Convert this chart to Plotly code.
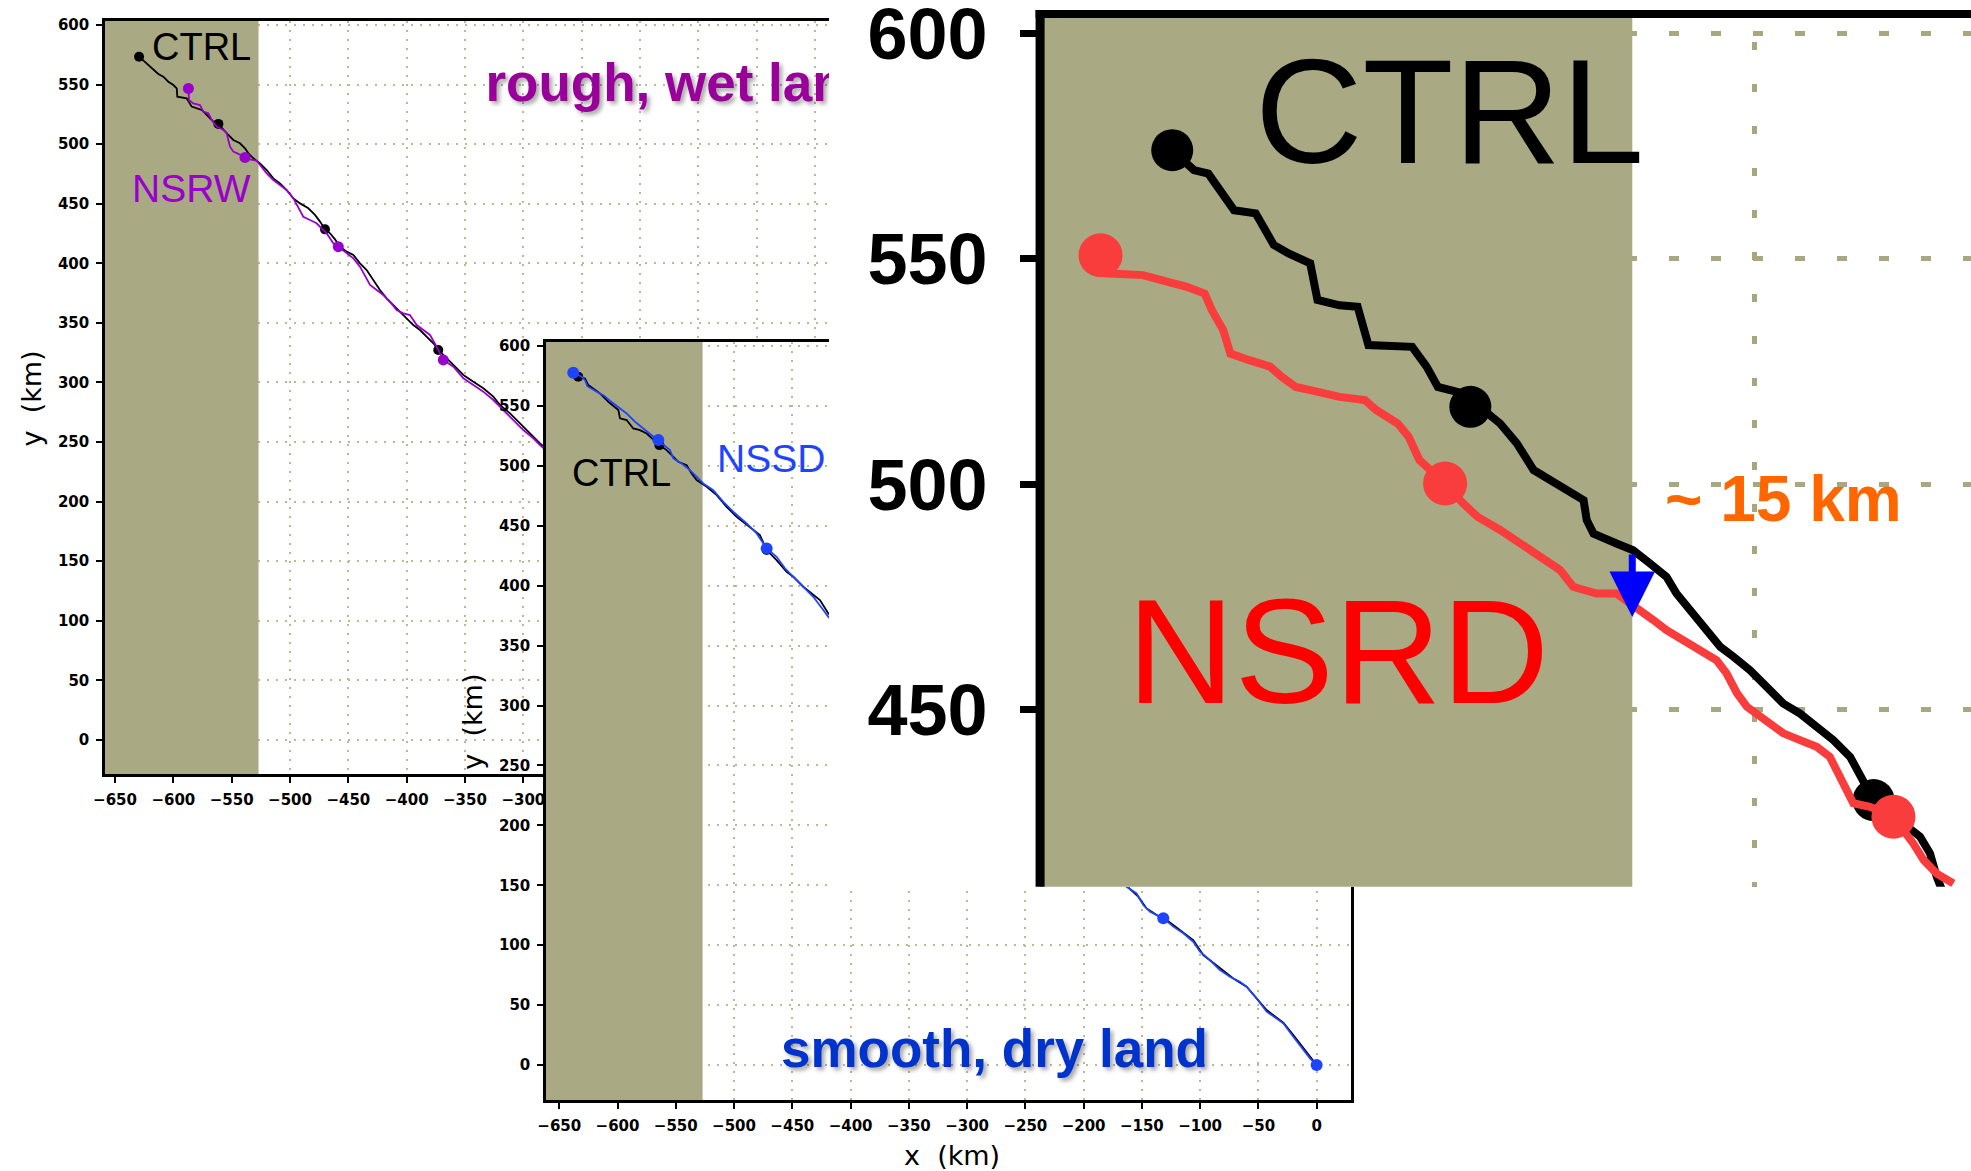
import plotly.graph_objects as go

W, H = 1971, 1171

# ---------------- storm tracks (km) ----------------
# Panel A: CTRL vs NSRW (rough, wet land)
ctrl_a_x = [-629.4, -622.9, -617.2, -612.9, -608.6, -604.3, -600.0, -597.1, -596.6, -592.9,
            -588.6, -584.3, -580.0, -575.7, -571.4, -565.7, -561.4, -557.1, -552.9, -548.6,
            -542.9, -538.6, -535.7, -531.4, -525.7, -520.0, -514.3, -508.6, -502.9, -497.1,
            -491.4, -484.3, -478.6, -474.3, -470.0, -465.7, -461.4, -457.1, -451.4, -445.7,
            -440.0, -434.3, -428.6, -422.9, -417.2, -411.4, -405.7, -400.0, -394.3, -388.6,
            -382.9, -377.1, -372.9, -365.7, -360.0, -351.4, -342.8, -334.3, -325.7, -320.0,
            -311.4, -302.9, -294.3, -285.7, -145.7, -120.0, -102.8, -91.4, -79.9, -62.8,
            -45.7, -38.6]
ctrl_a_y = [573.4, 567.8, 562.2, 558.9, 556.6, 552.4, 549.6, 546.8, 539.8, 539.3,
            538.4, 531.5, 530.1, 528.7, 524.5, 518.9, 517.0, 511.9, 507.7, 503.5,
            500.7, 496.5, 492.3, 488.1, 483.9, 478.3, 471.3, 467.1, 461.5, 454.5,
            450.3, 446.2, 440.6, 435.0, 428.5, 425.2, 420.1, 414.0, 409.8, 407.0,
            400.0, 394.4, 386.0, 377.6, 370.6, 365.0, 359.4, 353.8, 348.2, 344.0,
            338.4, 332.9, 327.3, 320.3, 314.7, 306.3, 300.7, 295.1, 288.1, 281.1,
            274.1, 265.7, 257.3, 248.9, 131.5, 113.3, 100.7, 90.9, 82.5, 69.9,
            48.9, 42.0]
ctrl_a_dot_x = [-629.4, -561.4, -470.0, -372.9]
ctrl_a_dot_y = [573.4, 517.0, 428.5, 327.3]

nsrw_x = [-587.1, -586.6, -582.9, -577.2, -574.3, -570.0, -567.1, -562.9, -557.1, -554.3,
          -552.9, -551.4, -548.6, -542.9, -538.6, -534.3, -528.6, -524.3, -520.0, -514.3,
          -508.6, -502.9, -497.1, -492.9, -488.6, -482.9, -477.2, -468.6, -462.9, -458.6,
          -451.4, -445.7, -440.0, -435.7, -431.4, -425.7, -420.0, -414.3, -408.6, -402.9,
          -397.2, -391.4, -385.7, -380.0, -374.3, -368.6, -360.0, -351.4, -342.8, -334.3,
          -325.7, -317.2, -308.6, -300.0, -291.4, -285.7, -148.5, -132.3, -120.0, -108.5,
          -97.1, -85.7, -74.2, -62.8, -54.2, -45.7, -38.6]
nsrw_y = [546.8, 537.0, 534.2, 532.8, 527.3, 525.9, 520.3, 514.7, 511.9, 509.1,
          503.5, 497.9, 493.7, 490.9, 488.9, 487.3, 486.1, 481.1, 475.5, 469.9,
          465.7, 461.5, 454.5, 447.5, 439.1, 436.4, 433.6, 425.2, 416.8, 414.0,
          408.4, 404.2, 397.2, 388.8, 381.8, 377.6, 373.4, 367.8, 360.8, 358.0,
          356.6, 348.2, 344.0, 339.9, 330.1, 318.9, 313.3, 303.5, 297.9, 292.3,
          285.3, 276.9, 268.5, 260.1, 253.1, 247.5, 131.5, 121.1, 111.9, 104.9,
          92.3, 83.9, 75.5, 68.6, 58.7, 47.6, 40.5]
nsrw_dot_x = [-587.1, -538.6, -458.6, -368.6, -132.3]
nsrw_dot_y = [546.8, 488.9, 414.0, 318.9, 121.1]

# Panel B: CTRL vs NSSD (smooth, dry land)
ctrl_b_x = [-633.7, -627.9, -625.1, -619.4, -615.1, -607.9, -599.3, -597.9, -592.2, -586.5,
            -580.7, -575.0, -569.3, -564.1, -557.9, -552.1, -547.9, -540.7, -536.4, -532.1,
            -523.5, -514.9, -506.4, -497.8, -486.4, -477.8, -472.0, -463.5, -454.9, -449.1,
            -440.6, -432.0, -426.3, -419.1, -163.1, -153.1, -145.9, -137.3, -128.7, -123.0,
            -105.9, -97.3, -91.6, -71.5, -60.1, -42.9, -28.6, -20.0, 0.0]
ctrl_b_y = [574.4, 573.0, 567.5, 563.3, 560.5, 553.6, 546.6, 539.7, 538.3, 531.3,
            529.9, 527.1, 521.6, 517.4, 513.2, 507.7, 503.5, 500.7, 493.7, 488.2,
            482.6, 475.7, 465.9, 457.6, 449.2, 442.3, 429.8, 421.4, 411.7, 407.5,
            399.2, 392.2, 388.1, 376.9, 148.8, 140.5, 130.7, 125.2, 121.0, 116.8,
            104.3, 91.8, 87.6, 72.3, 65.4, 45.9, 35.3, 25.0, 0.0]
ctrl_b_dot_x = [-633.7, -564.1, -472.0]
ctrl_b_dot_y = [574.4, 517.4, 429.8]

nssd_x = [-638.0, -630.8, -627.9, -625.9, -617.9, -612.2, -606.5, -599.3, -592.2, -585.0,
          -577.9, -572.2, -565.0, -559.3, -555.0, -552.1, -545.0, -537.8, -532.1, -526.4,
          -517.8, -509.2, -500.7, -489.2, -480.6, -472.0, -463.5, -456.3, -449.1, -440.6,
          -432.0, -423.4, -419.1, -163.1, -154.5, -148.8, -143.0, -131.6, -123.0, -114.4,
          -105.9, -100.1, -91.6, -83.0, -74.4, -65.8, -60.1, -51.5, -42.9, -34.4,
          -28.6, -20.0, -11.5, -5.7, 0.0]
nssd_y = [577.8, 574.4, 571.6, 566.6, 561.9, 559.1, 554.4, 549.4, 543.8, 536.9,
          531.3, 527.1, 521.6, 517.4, 513.2, 506.3, 502.1, 496.5, 491.0, 485.4,
          479.8, 470.1, 461.8, 452.0, 443.7, 431.2, 424.2, 414.5, 407.5, 399.2,
          390.8, 379.7, 374.1, 148.8, 143.2, 133.5, 128.0, 122.4, 115.5, 109.9,
          102.9, 94.6, 87.6, 79.3, 73.7, 69.5, 65.4, 55.6, 44.5, 38.9,
          34.8, 23.6, 12.5, 5.6, 0.0]
nssd_dot_x = [-638.0, -565.0, -472.0, -131.6, 0.0]
nssd_dot_y = [577.8, 521.6, 431.2, 122.4, 0.0]

# Panel C (close-up near the coast): CTRL vs NSRD
ctrl_c_x = [-629.0, -624.2, -621.0, -617.7, -615.3, -610.5, -606.5, -603.2, -598.4, -596.8,
            -591.9, -587.9, -585.5, -575.8, -572.6, -570.1, -564.5, -556.3, -552.6, -548.9,
            -545.2, -541.5, -537.8, -537.1, -535.6, -530.5, -526.8, -523.1, -519.4, -517.2,
            -513.4, -510.5, -507.5, -504.6, -500.9, -497.2, -493.5, -489.8, -486.1, -482.4,
            -478.7, -476.5, -473.5, -463.2, -461.0, -459.5, -457.5]
ctrl_c_y = [574.1, 569.7, 568.9, 564.5, 560.8, 560.1, 553.1, 551.2, 549.0, 540.9,
            539.7, 539.4, 530.9, 530.5, 526.1, 521.6, 520.2, 513.5, 509.1, 503.2,
            501.0, 498.7, 496.5, 492.1, 489.1, 486.9, 485.4, 482.5, 479.5, 475.8,
            471.4, 467.7, 464.0, 461.8, 458.8, 455.1, 451.4, 449.2, 446.3, 443.3,
            439.6, 435.9, 430.0, 421.9, 418.2, 413.0, 408.0]
ctrl_c_dot_x = [-629.0, -562.9, -473.5]
ctrl_c_dot_y = [574.1, 517.2, 430.0]

nsrd_x = [-644.9, -643.6, -635.5, -630.7, -625.8, -621.8, -620.2, -617.7, -616.1, -612.1,
          -607.3, -604.8, -601.6, -598.4, -591.9, -586.3, -583.8, -579.0, -576.6, -574.2,
          -568.5, -564.5, -561.3, -556.3, -551.9, -547.4, -543.0, -540.1, -534.9, -530.5,
          -526.8, -522.3, -519.4, -515.7, -512.0, -508.3, -506.1, -503.8, -501.6, -497.2,
          -493.5, -489.8, -486.1, -483.2, -481.7, -480.2, -478.0, -474.3, -469.1, -464.7,
          -462.4, -459.5, -455.8]
nsrd_y = [550.8, 546.8, 546.4, 545.3, 543.8, 542.3, 538.6, 534.2, 529.0, 527.6,
          526.1, 523.9, 521.6, 520.9, 519.4, 518.7, 516.5, 513.5, 510.6, 505.4,
          500.2, 495.8, 492.8, 489.9, 486.9, 484.0, 481.0, 477.3, 475.8, 475.8,
          472.9, 469.9, 467.7, 465.5, 463.3, 461.0, 458.1, 453.7, 450.7, 447.7,
          444.8, 443.3, 441.8, 439.6, 436.6, 433.0, 429.3, 428.5, 426.3, 420.4,
          416.7, 413.7, 411.5]
nsrd_dot_x = [-644.9, -568.5, -469.1]
nsrd_dot_y = [550.8, 500.2, 426.3]

LAND_EDGE = -527          # x (km) of the coastline; land lies to the west
GAP_TOP, GAP_BOTTOM = 484.8, 470.6   # track separation at the coast (km)

x_ticks_a = list(range(-650, 0, 50))
x_ticks_b = list(range(-650, 1, 50))
y_ticks = list(range(0, 601, 50))
y_ticks_c = [450, 500, 550, 600]
x_grid_c = [-500]

# ---------------- styling ----------------
SHADE = "#a9a983"
GRID_SMALL = "#b9b996"
GRID_BIG = "#a8a880"
SANS = "Liberation Sans, Arial, sans-serif"
TICKFONT = dict(family="DejaVu Sans", size=15, color="black", weight="bold")
PURPLE = "#9900cc"
BLUE = "#1f44ff"
RED_LINE = "#f93c3c"


def fx(p):
    return p / W


def fy(p):
    return 1 - p / H


def small_axis(domain, rng, tickvals, anchor, mirror):
    return dict(domain=domain, range=rng, anchor=anchor, tickmode="array",
                tickvals=tickvals, ticks="outside", ticklen=6, tickwidth=1.5,
                tickcolor="black", showline=True, linewidth=2.5, linecolor="black",
                mirror=mirror, showgrid=True, gridcolor=GRID_SMALL, griddash="2px,7px",
                gridwidth=1.5, zeroline=False, tickfont=TICKFONT, ticklabelstandoff=4,
                ticklabeloverflow="allow", automargin=False, fixedrange=True)


fig = go.Figure()


def track(x, y, color, width, xa, ya):
    fig.add_trace(go.Scatter(x=x, y=y, mode="lines", line=dict(color=color, width=width),
                             xaxis=xa, yaxis=ya, hoverinfo="skip"))


def dots(x, y, color, size, xa, ya):
    fig.add_trace(go.Scatter(x=x, y=y, mode="markers", marker=dict(color=color, size=size),
                             xaxis=xa, yaxis=ya, hoverinfo="skip"))


# panel A
track(ctrl_a_x, ctrl_a_y, "black", 1.8, "x", "y")
dots(ctrl_a_dot_x, ctrl_a_dot_y, "black", 10, "x", "y")
track(nsrw_x, nsrw_y, PURPLE, 1.8, "x", "y")
dots(nsrw_dot_x, nsrw_dot_y, PURPLE, 11, "x", "y")
fig.add_trace(go.Scatter(x=[-332.5], y=[547.1], mode="text", text=["rough, wet land"],
                         textposition="middle right", cliponaxis=True, xaxis="x", yaxis="y",
                         textfont=dict(family=SANS, size=53, color="#990099", weight="bold",
                                       shadow="3px 3px 4px rgba(0,0,0,0.35)"),
                         hoverinfo="skip"))
fig.add_trace(go.Scatter(x=[-317.4], y=[-76.2], mode="text", text=["x  (km)"],
                         textposition="middle center", cliponaxis=False, xaxis="x", yaxis="y",
                         textfont=dict(family="DejaVu Sans", size=27, color="black"),
                         hoverinfo="skip"))

# panel B
track(ctrl_b_x, ctrl_b_y, "black", 1.8, "x2", "y2")
dots(ctrl_b_dot_x, ctrl_b_dot_y, "black", 10, "x2", "y2")
track(nssd_x, nssd_y, BLUE, 1.8, "x2", "y2")
dots(nssd_dot_x, nssd_dot_y, BLUE, 12, "x2", "y2")

# panel C
track(ctrl_c_x, ctrl_c_y, "black", 8, "x3", "y3")
dots(ctrl_c_dot_x, ctrl_c_dot_y, "black", 42, "x3", "y3")
track(nsrd_x, nsrd_y, RED_LINE, 8, "x3", "y3")
dots(nsrd_dot_x, nsrd_dot_y, RED_LINE, 44, "x3", "y3")

shapes = [
    # land shading
    dict(type="rect", xref="x", yref="y", x0=-700, x1=LAND_EDGE, y0=-60, y1=640,
         fillcolor=SHADE, line=dict(width=0), layer="between"),
    dict(type="rect", xref="x2", yref="y2", x0=-700, x1=LAND_EDGE, y0=-60, y1=640,
         fillcolor=SHADE, line=dict(width=0), layer="between"),
    # opaque backdrop of the close-up
    dict(type="rect", xref="x3", yref="y3", x0=-760, x1=-400, y0=380, y1=640,
         fillcolor="white", line=dict(width=0), layer="below"),
    dict(type="rect", xref="x3", yref="y3", x0=-760, x1=-658.3, y0=380, y1=640,
         fillcolor="white", line=dict(width=0), layer="between"),
    dict(type="rect", xref="x3", yref="y3", x0=-760, x1=-400, y0=604.3, y1=640,
         fillcolor="white", line=dict(width=0), layer="between"),
    dict(type="rect", xref="x3", yref="y3", x0=-658.3, x1=LAND_EDGE, y0=380, y1=604.3,
         fillcolor=SHADE, line=dict(width=0), layer="between"),
    # close-up frame
    dict(type="line", xref="x3", yref="y3", x0=-658.3, x1=-658.3, y0=380, y1=605.2,
         line=dict(color="black", width=9), layer="above"),
    dict(type="line", xref="x3", yref="y3", x0=-659.3, x1=-400, y0=604.3, y1=604.3,
         line=dict(color="black", width=8), layer="above"),
]


def label(text, xp, yp, size, color, family=SANS, bold=False, angle=0, shadow=None):
    font = dict(family=family, size=size, color=color)
    if bold:
        font["weight"] = "bold"
    if shadow:
        font["shadow"] = shadow
    return dict(text=text, x=fx(xp), y=fy(yp), xref="paper", yref="paper",
                xanchor="center", yanchor="middle", showarrow=False, font=font,
                textangle=angle)


annotations = [
    label("CTRL", 201.7, 47, 38, "black"),
    label("NSRW", 191, 188, 39, PURPLE),
    label("y  (km)", 30.5, 399, 27, "black", family="DejaVu Sans", angle=-90),
    label("CTRL", 621.7, 472.8, 38, "black"),
    label("NSSD", 770.8, 458.8, 39, BLUE),
    label("y  (km)", 471.7, 722, 27, "black", family="DejaVu Sans", angle=-90),
    label("x  (km)", 952, 1155, 27, "black", family="DejaVu Sans"),
    label("smooth, dry land", 994.2, 1048.3, 53, "#0033cc", bold=True,
          shadow="3px 3px 4px rgba(0,0,0,0.35)"),
    label("CTRL", 1449.7, 111.7, 149, "black"),
    label("NSRD", 1337.5, 651.5, 149, "#ff0000"),
    label("~ 15 km", 1783, 499, 64, "#ff6600", bold=True),
    dict(text="", x=LAND_EDGE, y=GAP_BOTTOM, ax=LAND_EDGE, ay=GAP_TOP,
         xref="x3", yref="y3", axref="x3", ayref="y3", showarrow=True,
         arrowhead=2, arrowwidth=7, arrowsize=1.3, arrowcolor="#0000ff", standoff=0),
]

fig.update_layout(
    template="none",
    width=W, height=H, autosize=False,
    margin=dict(l=0, r=0, t=0, b=0, pad=0),
    paper_bgcolor="white", plot_bgcolor="white",
    font=dict(family=SANS, color="black"),
    showlegend=False, hovermode=False,
    xaxis=small_axis([fx(105), fx(830)], [-658.6, -37.1], x_ticks_a, "y", True),
    yaxis=small_axis([fy(774.3), fy(20.7)], [-28.8, 603.6], y_ticks, "x", False),
    xaxis2=small_axis([fx(546), fx(1351)], [-661.4, 29.5], x_ticks_b, "y2", True),
    yaxis2=small_axis([fy(1100), fy(341.7)], [-29.2, 603.7], y_ticks, "x2", True),
    xaxis3=dict(domain=[fx(829), 1.0], range=[-705.1, -451.9], anchor="y3",
                showticklabels=False, ticks="", showline=False, showgrid=True,
                tickmode="array", tickvals=x_grid_c, gridcolor=GRID_BIG,
                griddash="8px,34px", gridwidth=5, zeroline=False, automargin=False,
                fixedrange=True),
    yaxis3=dict(domain=[fy(886.7), 1.0], range=[410.8, 607.4], anchor="free",
                position=fx(1036), tickmode="array", tickvals=y_ticks_c,
                ticks="outside", ticklen=16, tickwidth=7, tickcolor="black",
                showline=False, showgrid=True, gridcolor=GRID_BIG,
                griddash="10px,32px", gridwidth=5, zeroline=False,
                tickfont=dict(family=SANS, size=72, color="black", weight="bold"),
                ticklabelstandoff=18, ticklabeloverflow="allow", automargin=False,
                fixedrange=True),
    shapes=shapes,
    annotations=annotations,
)

fig.write_html("out.html")
